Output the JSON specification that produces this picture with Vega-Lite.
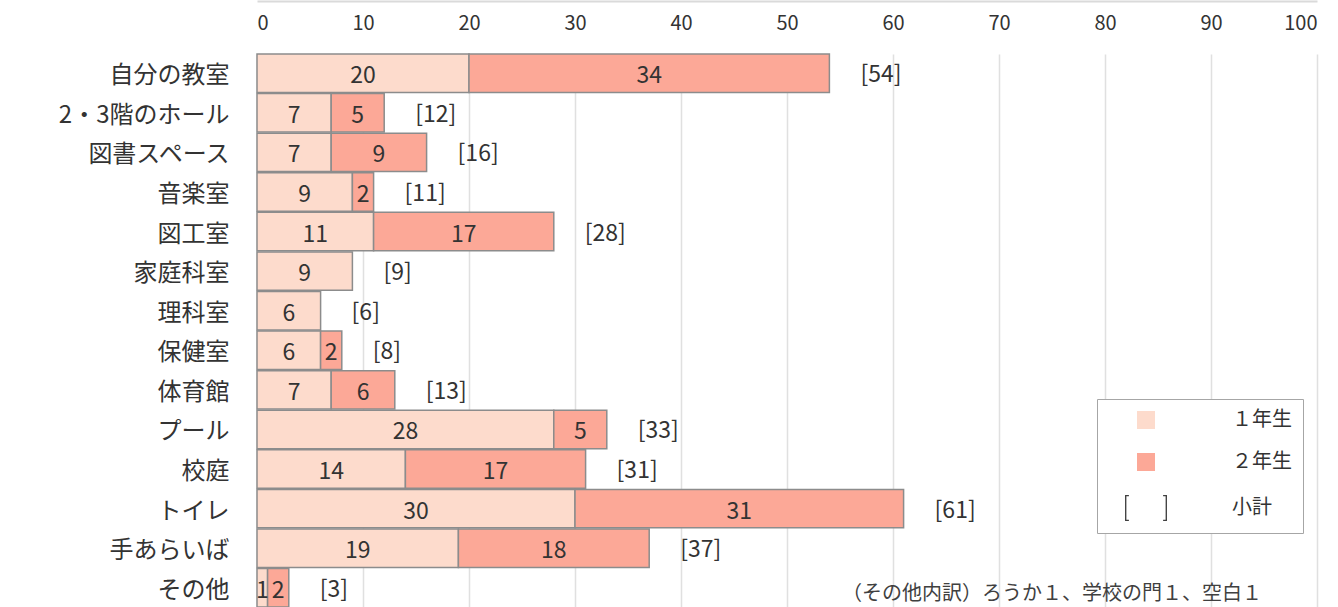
{
  "$schema": "https://vega.github.io/schema/vega-lite/v6.json",
  "width": 1060,
  "height": 553,
  "autosize": "none",
  "padding": {"left": 257, "top": 54, "right": 21, "bottom": 0},
  "background": "white",
  "config": {
    "font": "Noto Sans CJK JP",
    "view": {"stroke": null}
  },
  "datasets": {
    "counts": [
      {"place": "自分の教室", "grade": "１年生", "value": 20},
      {"place": "自分の教室", "grade": "２年生", "value": 34},
      {"place": "2・3階のホール", "grade": "１年生", "value": 7},
      {"place": "2・3階のホール", "grade": "２年生", "value": 5},
      {"place": "図書スペース", "grade": "１年生", "value": 7},
      {"place": "図書スペース", "grade": "２年生", "value": 9},
      {"place": "音楽室", "grade": "１年生", "value": 9},
      {"place": "音楽室", "grade": "２年生", "value": 2},
      {"place": "図工室", "grade": "１年生", "value": 11},
      {"place": "図工室", "grade": "２年生", "value": 17},
      {"place": "家庭科室", "grade": "１年生", "value": 9},
      {"place": "理科室", "grade": "１年生", "value": 6},
      {"place": "保健室", "grade": "１年生", "value": 6},
      {"place": "保健室", "grade": "２年生", "value": 2},
      {"place": "体育館", "grade": "１年生", "value": 7},
      {"place": "体育館", "grade": "２年生", "value": 6},
      {"place": "プール", "grade": "１年生", "value": 28},
      {"place": "プール", "grade": "２年生", "value": 5},
      {"place": "校庭", "grade": "１年生", "value": 14},
      {"place": "校庭", "grade": "２年生", "value": 17},
      {"place": "トイレ", "grade": "１年生", "value": 30},
      {"place": "トイレ", "grade": "２年生", "value": 31},
      {"place": "手あらいば", "grade": "１年生", "value": 19},
      {"place": "手あらいば", "grade": "２年生", "value": 18},
      {"place": "その他", "grade": "１年生", "value": 1},
      {"place": "その他", "grade": "２年生", "value": 2}
    ],
    "totals": [
      {"place": "自分の教室", "total": 54, "label": "[54]"},
      {"place": "2・3階のホール", "total": 12, "label": "[12]"},
      {"place": "図書スペース", "total": 16, "label": "[16]"},
      {"place": "音楽室", "total": 11, "label": "[11]"},
      {"place": "図工室", "total": 28, "label": "[28]"},
      {"place": "家庭科室", "total": 9, "label": "[9]"},
      {"place": "理科室", "total": 6, "label": "[6]"},
      {"place": "保健室", "total": 8, "label": "[8]"},
      {"place": "体育館", "total": 13, "label": "[13]"},
      {"place": "プール", "total": 33, "label": "[33]"},
      {"place": "校庭", "total": 31, "label": "[31]"},
      {"place": "トイレ", "total": 61, "label": "[61]"},
      {"place": "手あらいば", "total": 37, "label": "[37]"},
      {"place": "その他", "total": 3, "label": "[3]"}
    ],
    "notes": [
      {"note": "（その他内訳）ろうか１、学校の門１、空白１"}
    ]
  },
  "layer": [
    {
      "data": {"name": "counts"},
      "mark": {"type": "bar", "stroke": "#8c8c8c", "strokeWidth": 1.5},
      "encoding": {
        "y": {
          "field": "place", "type": "nominal",
          "sort": ["自分の教室", "2・3階のホール", "図書スペース", "音楽室", "図工室", "家庭科室", "理科室", "保健室", "体育館", "プール", "校庭", "トイレ", "手あらいば", "その他"],
          "scale": {"paddingInner": 0.03, "paddingOuter": 0},
          "axis": {"title": null, "ticks": false, "domain": false, "grid": false, "labelFontSize": 24, "labelColor": "#333333", "labelPadding": 28, "labelOffset": 3}
        },
        "x": {
          "field": "value", "type": "quantitative", "stack": "zero",
          "scale": {"domain": [0, 100], "nice": false},
          "axis": {"orient": "top", "title": null, "values": [0, 10, 20, 30, 40, 50, 60, 70, 80, 90, 100], "grid": true, "gridColor": "#e0e0e0", "gridWidth": 1.5, "domain": true, "domainColor": "#dadada", "domainWidth": 2, "offset": 53, "ticks": false, "labelFontSize": 20, "labelColor": "#333333", "labelPadding": -32}
        },
        "color": {
          "field": "grade", "type": "nominal",
          "scale": {"domain": ["１年生", "２年生", "小計"], "range": ["#fddbcc", "#fca897", "#404040"]},
          "legend": {
            "orient": "none", "legendX": 840, "legendY": 345, "title": null, "direction": "vertical",
            "padding": 11, "rowPadding": 22, "symbolOffset": 28, "labelOffset": 76,
            "strokeColor": "#a6a6a6", "fillColor": "#ffffff",
            "labelFontSize": 20, "labelColor": "#333333", "symbolSize": 324, "symbolOpacity": 1,
            "symbolStrokeColor": "transparent", "symbolStrokeWidth": 0
          }
        }
      }
    },
    {
      "data": {"name": "counts"},
      "transform": [
        {"stack": "value", "groupby": ["place"], "sort": [{"field": "grade", "order": "ascending"}], "as": ["v0", "v1"]},
        {"calculate": "(datum.v0 + datum.v1) / 2", "as": "mid"}
      ],
      "mark": {"type": "text", "fontSize": 23, "color": "#333333", "baseline": "middle", "align": "center", "dy": 3},
      "encoding": {
        "y": {"field": "place", "type": "nominal", "sort": ["自分の教室", "2・3階のホール", "図書スペース", "音楽室", "図工室", "家庭科室", "理科室", "保健室", "体育館", "プール", "校庭", "トイレ", "手あらいば", "その他"]},
        "x": {"field": "mid", "type": "quantitative"},
        "text": {"field": "value", "type": "quantitative"}
      }
    },
    {
      "data": {"name": "totals"},
      "mark": {"type": "text", "fontSize": 23, "color": "#333333", "baseline": "middle", "align": "left", "dx": 31, "dy": 2},
      "encoding": {
        "y": {"field": "place", "type": "nominal", "sort": ["自分の教室", "2・3階のホール", "図書スペース", "音楽室", "図工室", "家庭科室", "理科室", "保健室", "体育館", "プール", "校庭", "トイレ", "手あらいば", "その他"]},
        "x": {"field": "total", "type": "quantitative"},
        "text": {"field": "label", "type": "nominal"}
      }
    },
    {
      "data": {"name": "counts"},
      "transform": [{"filter": "false"}],
      "mark": {"type": "point", "filled": true, "opacity": 1},
      "encoding": {
        "color": {
          "field": "grade", "type": "nominal",
          "scale": {"domain": ["１年生", "２年生", "小計"], "range": ["#fddbcc", "#fca897", "#404040"]}
        },
        "shape": {
          "field": "grade", "type": "nominal",
          "scale": {"domain": ["１年生", "２年生", "小計"], "range": ["square", "square", "M-2.33,-1.45H-1.9V-1.31H-2.18V1.31H-1.9V1.45H-2.33ZM2.33,-1.45H1.9V-1.31H2.18V1.31H1.9V1.45H2.33Z"]}
        }
      }
    },
    {
      "data": {"name": "notes"},
      "mark": {"type": "text", "fontSize": 20, "color": "#404040", "align": "right", "baseline": "middle", "dy": 6},
      "encoding": {
        "x": {"datum": 94.8, "type": "quantitative"},
        "y": {"datum": "その他", "type": "nominal"},
        "text": {"field": "note", "type": "nominal"}
      }
    }
  ]
}
